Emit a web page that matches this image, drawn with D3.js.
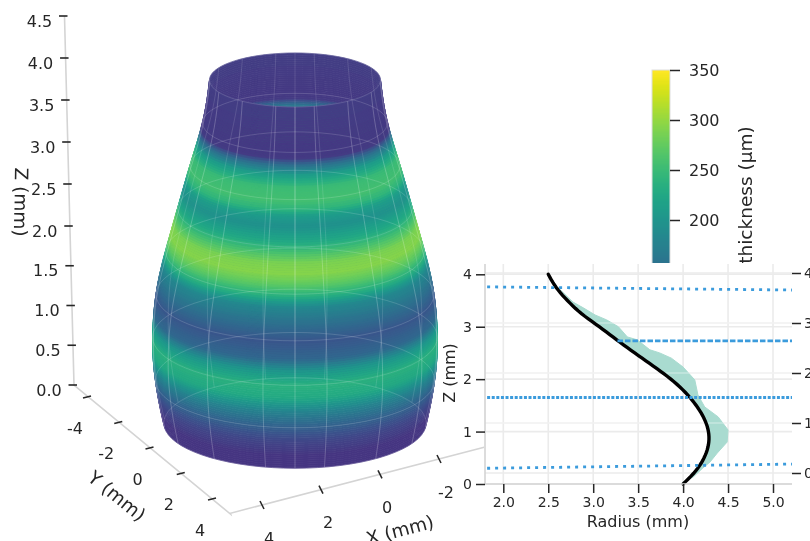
<!DOCTYPE html>
<html><head><meta charset="utf-8">
<style>html,body{margin:0;padding:0;background:#fff;overflow:hidden}svg{display:block;font-family:"DejaVu Sans",sans-serif;filter:blur(.45px)}</style>
<script src="https://cdn.jsdelivr.net/npm/d3@7/dist/d3.min.js"></script>
</head><body><svg id="c" width="810" height="541"></svg>
<script>
// ---- data ----
const profileZ = [0,.25,.5,.75,1,1.25,1.5,1.75,2,2.25,2.5,2.75,3,3.25,3.5,3.75,4];
const modelRadius = [4.0,4.15,4.24,4.29,4.29,4.24,4.15,4.03,3.87,3.67,3.46,3.26,3.07,2.86,2.71,2.58,2.5];
const surfaceRadius = [4.0,4.14,4.24,4.3,4.3,4.26,4.18,4.04,3.86,3.67,3.48,3.29,3.1,2.89,2.71,2.58,2.5];
const thicknessZ = [0,.17,.35,.53,.72,.85,1.0,1.16,1.3,1.5,1.71,1.87,1.97,2.1,2.22,2.33,2.45,2.56,2.72,2.83,2.9,2.99,3.13,3.26,3.37,3.44,3.6,4];
const thicknessUm = [88,88,106,139,186,226,238,204,142,122,158,186,232,272,294,288,257,226,195,211,242,257,251,211,149,92,92,96];
const bandZ = [3.99,3.76,3.47,3.36,3.225,3.13,3.0,2.805,2.75,2.56,2.5,2.4,2.23,1.985,1.7,1.47,1.28,1.03,.8,.59,.42,.305,.13,.04];
const bandRadius = [2.5,2.6,2.775,2.89,3.02,3.15,3.28,3.38,3.49,3.63,3.74,3.87,4.0,4.13,4.165,4.24,4.39,4.5,4.49,4.38,4.3,4.22,4.11,4.0];
const zTicks3d = [0,.5,1,1.5,2,2.5,3,3.5,4,4.5];
const yTicks3d = [-4,-2,0,2,4];
const xTicks3d = [4,2,0,-2];
const cbTicks = [200,250,300,350];
const radiusTicks = [2,2.5,3,3.5,4,4.5,5];
const leftZTicks = [0,1,2,3,4];
const rightZTicks = [0,1,2,3,4];
const meridianDeg = [-85,-63,-38,-13,13,38,63,85,0];
const parallelZ = [0,.5,1,1.5,2,2.5,3,3.5,4];
const dividers = [
  {z0:3.76,z1:3.70,r0:1.82,dash:"3 5"},
  {z0:2.73,z1:2.73,r0:3.27,dash:"5.5 2"},
  {z0:1.65,z1:1.65,r0:1.82,dash:"3 1.6"},
  {z0:.30,z1:.38,r0:1.82,dash:"3 5"}
];
// ---- scales ----
const svg = d3.select("#c");
const ink = "#262626", rule = "#d4d4d4", grid = "#ebebeb", dotBlue = "#3b9bdc";
const color = d3.scaleSequential(d3.interpolateViridis).domain([40,350]);
const thick = d3.scaleLinear().domain(thicknessZ).range(thicknessUm);
const basisS = d3.interpolateBasis(surfaceRadius);
const basisM = d3.interpolateBasis(modelRadius);
const radiusAt = z => basisS(z/4);
const modelAt = z => basisM(z/4);
const centerY = d3.scaleLinear().domain([0,4]).range([423,80]);
const pxPerMm = d3.scaleLinear().domain([0,4]).range([32.8,34.2]);
const flatten = d3.scaleLinear().domain([0,4]).range([.345,.316]);
const centerX = 295;
const deg = Math.PI/180;
const project = (z,a) => {
  const R = radiusAt(z)*pxPerMm(z);
  return [centerX+R*Math.sin(a*deg), centerY(z)+R*flatten(z)*Math.cos(a*deg)];
};
const line = d3.line();
// ---- colorbar (under the inset) ----
const cbY = d3.scaleLinear().domain([350,200]).range([70,220]);
const cbVals = d3.range(350,150,-1);
const cb = svg.append("g");
cb.selectAll("rect").data(cbVals).join("rect")
  .attr("x",652).attr("width",18).attr("y",d=>cbY(d)).attr("height",1.5).attr("fill",d=>color(d));
cb.append("rect").attr("x",652).attr("y",cbY(350)).attr("width",18).attr("height",cbY(150)-cbY(350))
  .attr("fill","none").attr("stroke","#ddd").attr("stroke-width",1);
const cbAxis = svg.append("g").attr("transform","translate(670,0)")
  .call(d3.axisRight(cbY).tickValues(cbTicks).tickSize(10).tickPadding(9).tickFormat(d3.format("d")));
cbAxis.select(".domain").remove();
cbAxis.selectAll("line").attr("stroke",ink).attr("stroke-width",1.5);
cbAxis.selectAll("text").attr("font-size",16).attr("fill",ink).attr("font-family","DejaVu Sans");
svg.append("text").attr("transform","translate(752,195) rotate(-90)").attr("text-anchor","middle")
  .attr("font-size",18.5).attr("fill",ink).text("thickness (μm)");
// ---- 3d axes ----
const z3 = d3.scaleLinear().domain([0,2,4.5]).range([385,226,16]);
const zAxX = d3.scaleLinear().domain([0,4.5]).range([73,63.5]);
const y3x = d3.scaleLinear().domain([-4,4]).range([87,212]);
const y3y = d3.scaleLinear().domain([-4,4]).range([397,499]);
const x3x = d3.scaleLinear().domain([4,-2]).range([262,439]);
const x3y = d3.scaleLinear().domain([4,-2]).range([505,459]);
const axes = svg.append("g").attr("fill","none").attr("stroke",rule).attr("stroke-width",1.6);
axes.append("path").attr("d",line([[zAxX(4.5)+1,z3(4.5)],[zAxX(0)+1,z3(0)],[y3x(5.2),y3y(5.2)],[x3x(5.07),x3y(5.07)],[x3x(-3.53),x3y(-3.53)]]));
const ticks = svg.append("g").attr("stroke",ink).attr("stroke-width",1.6);
ticks.selectAll(".tz").data(zTicks3d).join("line").attr("x1",d=>zAxX(d)-4.5).attr("x2",d=>zAxX(d)+4).attr("y1",d=>z3(d)).attr("y2",d=>z3(d));
ticks.selectAll(".ty").data(yTicks3d).join("line").attr("x1",d=>y3x(d)-4).attr("x2",d=>y3x(d)+4).attr("y1",d=>y3y(d)+1).attr("y2",d=>y3y(d)-1);
ticks.selectAll(".tx").data(xTicks3d).join("line").attr("x1",d=>x3x(d)-2).attr("x2",d=>x3x(d)+2).attr("y1",d=>x3y(d)-4).attr("y2",d=>x3y(d)+4);
const lab3 = svg.append("g").attr("font-size",16).attr("fill",ink).attr("text-anchor","middle").attr("dominant-baseline","central");
lab3.selectAll(".lz").data(zTicks3d).join("text").attr("x",d=>zAxX(d)-24).attr("y",d=>z3(d)+5).text(d3.format(".1f"));
lab3.selectAll(".ly").data(yTicks3d).join("text").attr("x",d=>y3x(d)-12).attr("y",d=>y3y(d)+31).text(d=>String(d));
lab3.selectAll(".lx").data(xTicks3d).join("text").attr("x",d=>x3x(d)+7).attr("y",d=>x3y(d)+33).text(d=>String(d));
lab3.append("text").attr("transform","translate(21,202) rotate(91)").attr("font-size",18.5).text("Z (mm)");
lab3.append("text").attr("transform","translate(117,496) rotate(39)").attr("font-size",18.5).text("Y (mm)");
lab3.append("text").attr("transform","translate(400,530) rotate(-15)").attr("font-size",18.5).text("X (mm)");
// ---- surface of revolution ----
const stepZ = .025;
const levels = d3.range(0,4-1e-9,stepZ);
const frontA = d3.range(-90,90.1,5), backA = d3.range(90,270.1,5);
const strip = (z,angles) => {
  const z2 = Math.min(4,z+stepZ);
  const a = angles.map(t=>project(z,t)), b = angles.map(t=>project(z2,t)).reverse();
  return line(a.concat(b))+"Z";
};
const surf = svg.append("g");
const paint = (sel,angles,order) => sel.append("g").selectAll("path").data(order).join("path")
  .attr("d",z=>strip(z,angles))
  .attr("fill",z=>color(thick(z+stepZ/2)))
  .attr("stroke",z=>color(thick(z+stepZ/2))).attr("stroke-width",.8);
paint(surf,backA,levels);
paint(surf,frontA,levels);
// wireframe
const wire = svg.append("g").attr("fill","none").attr("stroke","#fff").attr("stroke-opacity",.22).attr("stroke-width",1);
const fineZ = d3.range(0,4.001,.1);
wire.selectAll(".m").data(meridianDeg).join("path").attr("d",a=>line(fineZ.map(z=>project(z,a))));
wire.selectAll(".b").data(meridianDeg).join("path").attr("d",a=>line(fineZ.map(z=>project(z,a+180)))).attr("stroke-opacity",.12);
const ringA = d3.range(0,360.1,5);
wire.selectAll(".p").data(parallelZ).join("path").attr("d",z=>line(ringA.map(a=>project(z,a)))+"Z").attr("stroke-opacity",.15);
// ---- inset ----
const ins = svg.append("g");
ins.append("rect").attr("x",484).attr("y",263).attr("width",326).attr("height",278).attr("fill","#fff");
const rX = d3.scaleLinear().domain([2,5]).range([503.3,773]);
const zL = d3.scaleLinear().domain([0,4]).range([484,274.3]);
const zR = d3.scaleLinear().domain([0,4]).range([473,273]);
const L = 485, Rgt = 792, B = 484, T = 264;
const g = ins.append("g").attr("stroke",grid).attr("stroke-width",1.6);
g.selectAll(".v").data(radiusTicks).join("line").attr("x1",d=>rX(d)).attr("x2",d=>rX(d)).attr("y1",T).attr("y2",B);
g.selectAll(".h").data(leftZTicks).join("line").attr("x1",L).attr("x2",Rgt).attr("y1",d=>zL(d)).attr("y2",d=>zL(d));
g.selectAll(".r").data(rightZTicks).join("line").attr("x1",L).attr("x2",Rgt).attr("y1",d=>zR(d)).attr("y2",d=>zR(d));
// thickness band between the model curve and the measured outer edge
const bandOuter = bandZ.map((z,i)=>[rX(bandRadius[i]),zL(z)]);
const modelPts = profileZ.map((z,i)=>[rX(modelRadius[i]),zL(z)]);
ins.append("path").attr("d",line(bandOuter.concat(modelPts))+"Z").attr("fill","#a9dbd0").attr("stroke","#a9dbd0").attr("stroke-width",1);
ins.append("g").attr("stroke","#fff").attr("stroke-opacity",.35).attr("stroke-width",1.4)
  .selectAll("line").data(rightZTicks.filter(d=>d>0&&d<4)).join("line").attr("x1",L).attr("x2",Rgt).attr("y1",d=>zR(d)).attr("y2",d=>zR(d));
ins.append("path").attr("d",d3.line().x(z=>rX(modelAt(z))).y(z=>zL(z))(d3.range(0,4.001,.05)))
  .attr("fill","none").attr("stroke","#000").attr("stroke-width",3.4).attr("stroke-linecap","round");
ins.append("g").attr("fill","none").attr("stroke",dotBlue).attr("stroke-width",2.8)
  .selectAll("line").data(dividers).join("line")
  .attr("x1",d=>rX(d.r0)).attr("x2",Rgt).attr("y1",d=>zL(d.z0)).attr("y2",d=>zL(d.z1)).attr("stroke-dasharray",d=>d.dash);
const styleAxis = (a,fs) => {
  a.select(".domain").attr("stroke",rule).attr("stroke-width",1.6);
  a.selectAll("line").attr("stroke",ink).attr("stroke-width",1.5);
  a.selectAll("text").attr("font-size",fs).attr("fill",ink).attr("font-family","DejaVu Sans");
};
const axB = ins.append("g").attr("transform",`translate(0,${B})`)
  .call(d3.axisBottom(rX).tickValues(radiusTicks).tickSize(9).tickPadding(4).tickSizeOuter(0).tickFormat(d3.format(".1f")));
styleAxis(axB,14);
axB.select(".domain").attr("d",`M${L},0H${Rgt}`);
const axL = ins.append("g").attr("transform",`translate(${L},0)`)
  .call(d3.axisLeft(zL).tickValues(leftZTicks).tickSize(9).tickPadding(4).tickSizeOuter(0).tickFormat(d3.format("d")));
styleAxis(axL,14);
axL.select(".domain").attr("d",`M0,${B}V${T}`);
const axR = ins.append("g").attr("transform",`translate(${Rgt},0)`)
  .call(d3.axisRight(zR).tickValues(rightZTicks).tickSize(9).tickPadding(3).tickSizeOuter(0).tickFormat(d3.format("d")));
styleAxis(axR,14);
axR.select(".domain").remove();
ins.append("text").attr("x",638).attr("y",527).attr("text-anchor","middle").attr("font-size",16).attr("fill",ink).text("Radius (mm)");
ins.append("text").attr("transform","translate(455,373) rotate(-90)").attr("text-anchor","middle").attr("font-size",16).attr("fill",ink).text("Z (mm)");
</script></body></html>
